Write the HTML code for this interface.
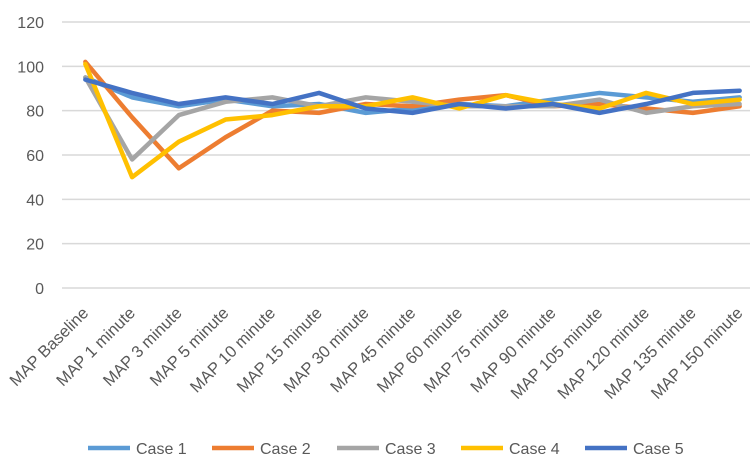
<!DOCTYPE html>
<html><head><meta charset="utf-8"><style>
body{margin:0;background:#fff;}
svg{display:block;font-family:"Liberation Sans",sans-serif;}
</style></head><body>
<svg id="chart" width="750" height="462"></svg>
<script>
const categories=["MAP Baseline","MAP 1 minute","MAP 3 minute","MAP 5 minute","MAP 10 minute","MAP 15 minute","MAP 30 minute","MAP 45 minute","MAP 60 minute","MAP 75 minute","MAP 90 minute","MAP 105 minute","MAP 120 minute","MAP 135 minute","MAP 150 minute"];
const case1=[95,86,82,85,82,83,79,81,83,82,85,88,86,84,86];
const case2=[102,77,54,68,80,79,83,82,85,87,82,83,81,79,82];
const case3=[95,58,78,84,86,82,86,84,82,82,82,85,79,82,83];
const case4=[101,50,66,76,78,82,82,86,81,87,83,81,88,83,85];
const case5=[94,88,83,86,83,88,81,79,83,81,83,79,83,88,89];
const yTicks=[0,20,40,60,80,100,120];
const seriesNames=["Case 1","Case 2","Case 3","Case 4","Case 5"];
const seriesData=[case1,case2,case3,case4,case5];
const colors=["#5B9BD5","#ED7D31","#A5A5A5","#FFC000","#4472C4"];
const NS="http://www.w3.org/2000/svg";
const svgEl=document.getElementById('chart');
const plotLeft=62,plotRight=763,plotTop=22,plotBottom=288;
const band=(plotRight-plotLeft)/categories.length;
const xPos=i=>plotLeft+band*(i+0.5);
const yPos=v=>plotBottom-(v/120)*(plotBottom-plotTop);
function mk(t,a){const e=document.createElementNS(NS,t);for(const k in a)e.setAttribute(k,a[k]);svgEl.appendChild(e);return e;}
yTicks.forEach(t=>{
  const g=mk('line',{x1:plotLeft,x2:750,y1:yPos(t),y2:yPos(t),stroke:'#d9d9d9','stroke-width':1.5});
  
  
  const l=mk('text',{x:44,y:yPos(t)+6,'text-anchor':'end','font-size':16,fill:'#595959'});
  l.textContent=t;
  
  
});
categories.forEach((c,i)=>{
  const tx=xPos(i)+4,ty=plotBottom+26;
  const l=mk('text',{x:tx,y:ty,'text-anchor':'end','font-size':16.5,fill:'#595959',transform:`rotate(-45 ${tx} ${ty})`});
  l.textContent=c;
  
  
});
seriesData.forEach((d,s)=>{
  const p=mk('polyline',{points:d.map((v,i)=>xPos(i)+','+yPos(v)).join(' '),fill:'none',stroke:colors[s],'stroke-width':4.5,'stroke-linejoin':'round','stroke-linecap':'round'});
  
  
});
const lx=[88,212,337,461,585];
seriesNames.forEach((n,s)=>{
  const ln=mk('line',{x1:lx[s],x2:lx[s]+42,y1:448,y2:448,stroke:colors[s],'stroke-width':4.5});
  
  
  const t=mk('text',{x:lx[s]+48,y:454,'font-size':16,fill:'#595959'});
  t.textContent=n;
  
  
});
</script>
</body></html>
